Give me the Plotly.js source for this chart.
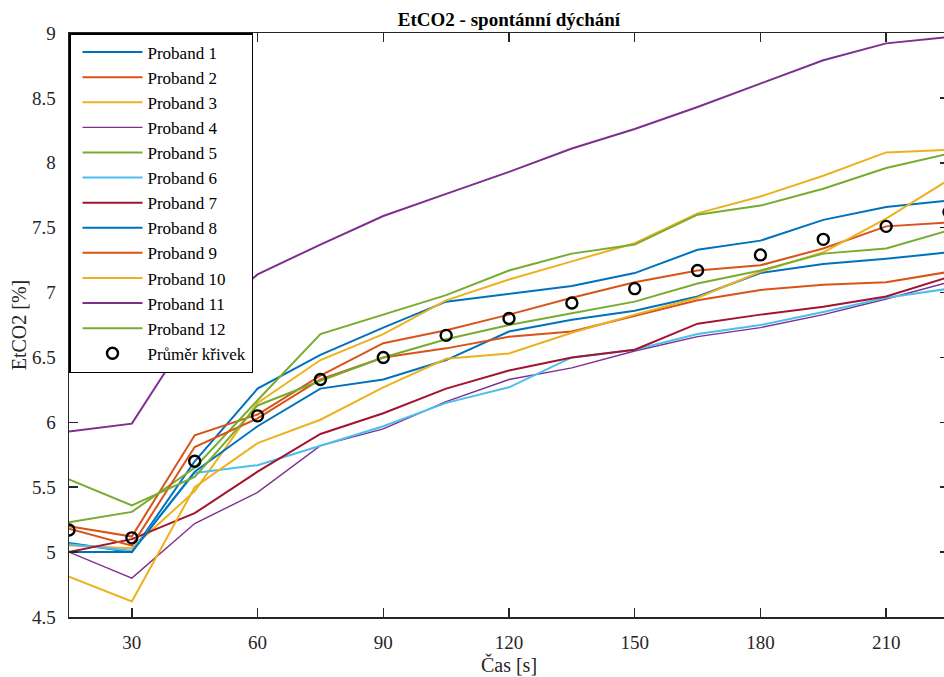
<!DOCTYPE html>
<html>
<head>
<meta charset="utf-8">
<script src="https://cdn.plot.ly/plotly-3.0.1.min.js"></script>
<style>
html, body { margin: 0; padding: 0; overflow: hidden; background: #fff; }
#chart { width: 950px; height: 677px; }
</style>
</head>
<body>
<div id="chart"></div>
<script>
// Time points [s]
const times = [15, 30, 45, 60, 75, 90, 105, 120, 135, 150, 165, 180, 195, 210, 225];

// EtCO2 [%] per subject
const proband1  = [5.07, 5.00, 5.70, 6.26, 6.52, 6.73, 6.93, 6.99, 7.05, 7.15, 7.33, 7.40, 7.56, 7.66, 7.71];
const proband2  = [5.20, 5.12, 5.90, 6.06, 6.36, 6.61, 6.71, 6.83, 6.96, 7.08, 7.17, 7.21, 7.34, 7.51, 7.54];
const proband3  = [5.05, 5.03, 5.47, 6.15, 6.48, 6.68, 6.94, 7.10, 7.24, 7.38, 7.61, 7.74, 7.90, 8.08, 8.10];
const proband4  = [5.00, 4.80, 5.22, 5.46, 5.82, 5.95, 6.16, 6.33, 6.42, 6.55, 6.66, 6.73, 6.83, 6.95, 7.08];
const proband5  = [5.23, 5.31, 5.65, 6.17, 6.68, 6.83, 6.98, 7.17, 7.30, 7.37, 7.60, 7.67, 7.80, 7.96, 8.07];
const proband6  = [5.06, 5.01, 5.61, 5.67, 5.82, 5.97, 6.15, 6.27, 6.50, 6.56, 6.68, 6.75, 6.85, 6.96, 7.03];
const proband7  = [5.00, 5.10, 5.30, 5.62, 5.91, 6.07, 6.26, 6.40, 6.50, 6.56, 6.76, 6.83, 6.89, 6.97, 7.12];
const proband8  = [5.00, 5.00, 5.62, 5.97, 6.26, 6.33, 6.48, 6.70, 6.79, 6.86, 6.97, 7.15, 7.22, 7.26, 7.31];
const proband9  = [5.18, 5.05, 5.81, 6.03, 6.33, 6.50, 6.57, 6.66, 6.70, 6.82, 6.94, 7.02, 7.06, 7.08, 7.16];
const proband10 = [4.81, 4.62, 5.50, 5.84, 6.02, 6.27, 6.49, 6.53, 6.69, 6.83, 6.96, 7.16, 7.31, 7.57, 7.87];
const proband11 = [5.93, 5.99, 6.74, 7.14, 7.37, 7.59, 7.76, 7.93, 8.11, 8.26, 8.43, 8.61, 8.79, 8.92, 8.97];
const proband12 = [5.56, 5.36, 5.58, 6.13, 6.32, 6.50, 6.64, 6.75, 6.84, 6.93, 7.07, 7.17, 7.30, 7.34, 7.48];
const meanCurve = [5.17, 5.11, 5.70, 6.05, 6.33, 6.50, 6.67, 6.80, 6.92, 7.03, 7.17, 7.29, 7.41, 7.51, 7.62];

const seriesNames = ["Proband 1", "Proband 2", "Proband 3", "Proband 4", "Proband 5", "Proband 6",
                     "Proband 7", "Proband 8", "Proband 9", "Proband 10", "Proband 11", "Proband 12"];
const meanName = "Průměr křivek";

const xTickVals = [30, 60, 90, 120, 150, 180, 210];
const xTickText = ["30", "60", "90", "120", "150", "180", "210"];
const yTickVals = [4.5, 5, 5.5, 6, 6.5, 7, 7.5, 8, 8.5, 9];
const yTickText = ["4.5", "5", "5.5", "6", "6.5", "7", "7.5", "8", "8.5", "9"];

const seriesValues = [proband1, proband2, proband3, proband4, proband5, proband6,
                      proband7, proband8, proband9, proband10, proband11, proband12];
const colors = ["#0072BD", "#D95319", "#EDB120", "#7E2F8E", "#77AC30", "#4DBEEE",
                "#A2142F", "#0072BD", "#D95319", "#EDB120", "#7E2F8E", "#77AC30"];
const widths = [2, 2, 2, 1.4, 2, 2, 2, 2, 2, 2, 2, 2];

const FONT = "Liberation Serif";
const AX = "#262626";

const traces = seriesValues.map((vals, i) => ({
  x: times, y: vals, type: "scatter", mode: "lines", name: seriesNames[i],
  line: { color: colors[i], width: widths[i] }
}));
traces.push({
  x: times, y: meanCurve, type: "scatter", mode: "markers", name: meanName,
  marker: { symbol: "circle-open", size: 11, color: "#000", line: { width: 2.4, color: "#000" } },
  cliponaxis: true
});

const layout = {
  width: 950, height: 677,
  margin: { l: 69, r: 1, t: 33, b: 60 },
  paper_bgcolor: "#fff", plot_bgcolor: "#fff",
  font: { family: FONT, size: 18, color: "#262626" },
  title: {
    text: "<b>EtCO2 - spontánní dýchání</b>",
    font: { family: FONT, size: 19, color: "#000" },
    x: 0.5, xref: "paper", y: 0.972, yref: "container", yanchor: "middle"
  },
  xaxis: {
    range: [15, 225], tickvals: xTickVals, ticktext: xTickText,
    ticks: "inside", ticklen: 9, tickwidth: 1.5, tickcolor: AX,
    showline: true, linecolor: AX, linewidth: 1.5, mirror: "ticks",
    showgrid: false, zeroline: false,
    tickfont: { family: FONT, size: 19, color: "#262626" },
    ticklabelstandoff: 8,
    title: { text: "Čas [s]", font: { family: FONT, size: 20, color: "#262626" }, standoff: 0 }
  },
  yaxis: {
    range: [4.5, 9], tickvals: yTickVals, ticktext: yTickText,
    ticks: "inside", ticklen: 9, tickwidth: 1.5, tickcolor: AX,
    showline: true, linecolor: AX, linewidth: 1.5, mirror: "ticks",
    showgrid: false, zeroline: false,
    tickfont: { family: FONT, size: 19, color: "#262626" },
    ticklabelstandoff: 8,
    title: { text: "EtCO2 [%]", font: { family: FONT, size: 20, color: "#262626" }, standoff: 0 }
  },
  showlegend: true,
  legend: {
    x: 0, y: 1, xanchor: "left", yanchor: "top",
    bgcolor: "#fff", bordercolor: "#000", borderwidth: 1.5,
    font: { family: FONT, size: 17, color: "#000" },
    itemwidth: 60, indentation: 7, tracegroupgap: 0, traceorder: "normal"
  }
};

Plotly.newPlot("chart", traces, layout, { displayModeBar: false, staticPlot: true });
</script>
</body>
</html>
